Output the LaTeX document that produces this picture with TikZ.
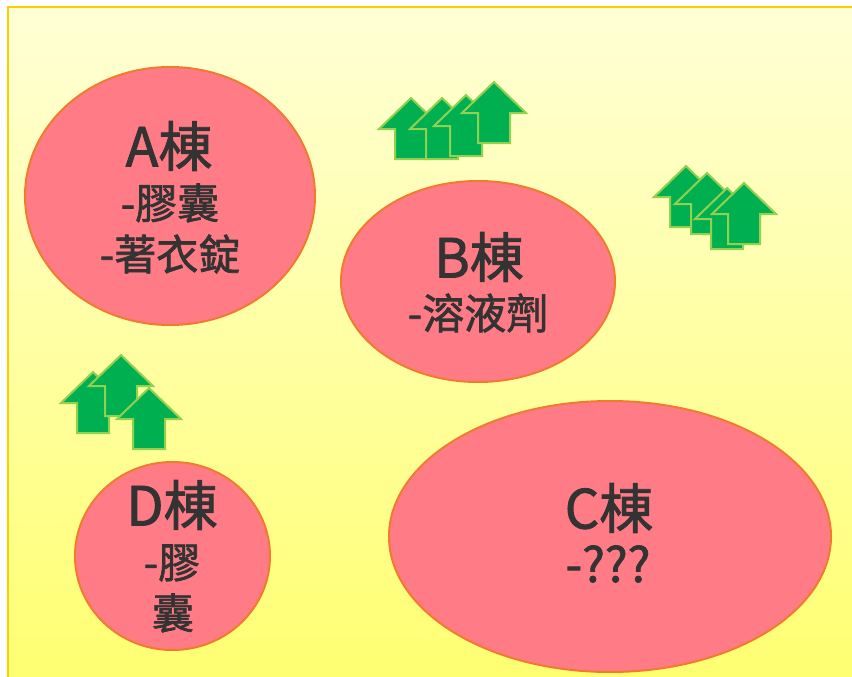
\documentclass[tikz,border=0pt]{standalone}
\usepackage{fontspec}
\setmainfont{Noto Sans CJK TC}[FakeBold=1.6]
\definecolor{bgtop}{HTML}{FFFFD6}
\definecolor{bgbot}{HTML}{FFFF6E}
\definecolor{bgline}{HTML}{FFCC00}
\definecolor{ellfill}{HTML}{FF7C86}
\definecolor{ellline}{HTML}{F27A2E}
\definecolor{arrfill}{HTML}{00B050}
\definecolor{arrline}{HTML}{92D050}
\definecolor{txt}{HTML}{333333}
\tikzset{
  blob/.style={draw=ellline, line width=2pt, fill=ellfill},
  title/.style={inner sep=0pt, text=txt, font=\fontsize{54}{58}\selectfont},
  sub/.style={inner sep=0pt, text=txt, font=\fontsize{42}{46}\selectfont},
  upa/.pic={\draw[draw=arrline, fill=arrfill, line width=2pt, line join=miter]
     (0,0) -- (32,31) -- (16,31) -- (16,61) -- (-16,61) -- (-16,31) -- (-32,31) -- cycle;}
}
\begin{document}
\begin{tikzpicture}[x=1pt,y=-1pt]
\useasboundingbox (0,0) rectangle (852,677);
\clip (0,0) rectangle (852,677);
\shade[top color=bgtop, bottom color=bgbot] (8,7) rectangle (870,700);
\draw[bgline, line width=2pt] (8,700) -- (8,7) -- (870,7);
% arrow group top
\pic at (411,98) {upa};
\pic at (442,98) {upa};
\pic at (466,95) {upa};
\pic at (494,82) {upa};
% arrow group right
\pic at (686,166) {upa};
\pic at (707,173) {upa};
\pic at (727,188) {upa};
\pic at (744,183) {upa};
% arrow group left
\pic at (93,372) {upa};
\pic at (121,355) {upa};
\pic at (149,388) {upa};
% buildings
\draw[blob] (170,196) ellipse [x radius=145, y radius=129];
\draw[blob] (478,281.5) ellipse [x radius=137, y radius=100.5];
\draw[blob] (610,536.5) ellipse [x radius=221, y radius=135.5];
\draw[blob] (172.5,556) ellipse [x radius=97.5, y radius=94];
\node[title] (at) at (169,146) {A棟};
\node[sub] (a1) at (170,203) {-膠囊};
\node[sub] (a2) at (170,254) {-著衣錠};
\node[title] (bt) at (479,257) {B棟};
\node[sub] (b1) at (478,313) {-溶液劑};
\node[title] (ct) at (609,508) {C棟};
\node[sub, font=\fontsize{48}{52}\selectfont] (c1) at (608,564) {-???};
\node[title] (dt) at (172,505) {D棟};
\node[sub] (d1) at (172,563) {-膠};
\node[sub] (d2) at (173,613) {囊};
\end{tikzpicture}
\end{document}
